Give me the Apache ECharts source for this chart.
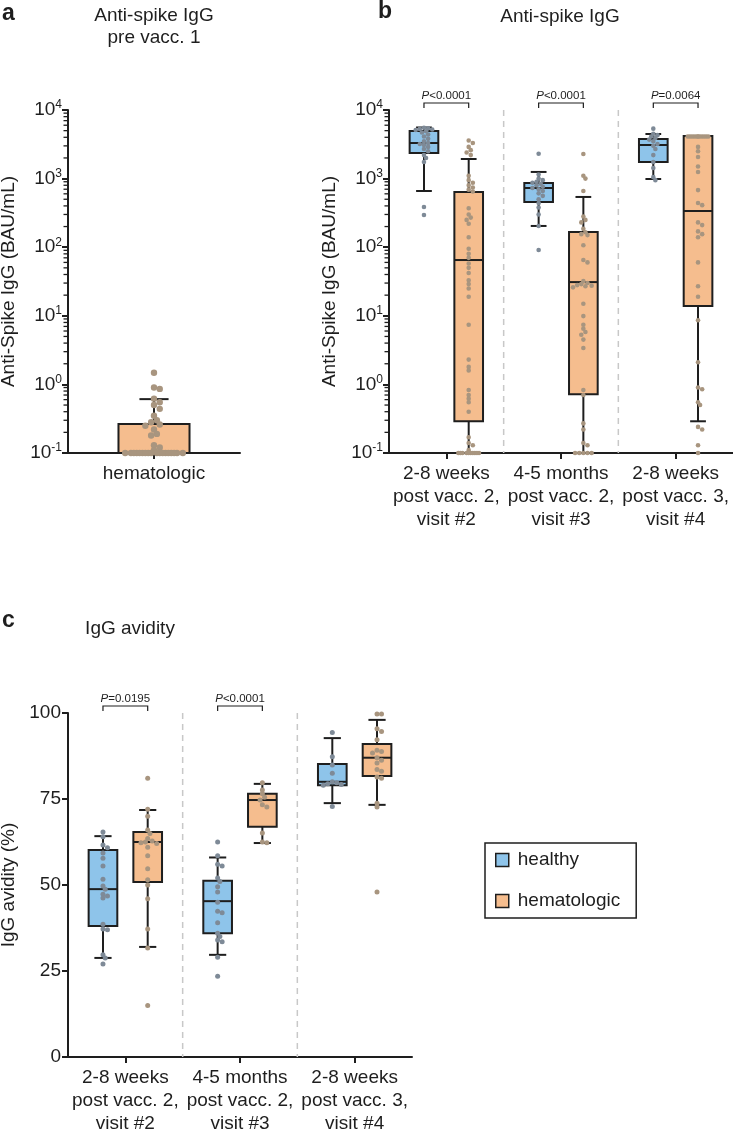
<!DOCTYPE html>
<html><head><meta charset="utf-8">
<script src="https://cdn.jsdelivr.net/npm/echarts@6/dist/echarts.min.js"></script>
<style>html,body{margin:0;padding:0;background:#fff}#c{width:733px;height:1131px}</style>
</head><body><div id="c"></div>
<script>
// ---------------- data ----------------
const catsA = ['hematologic'];
const catsBC = ['2-8 weeks\npost vacc. 2,\nvisit #2', '4-5 months\npost vacc. 2,\nvisit #3', '2-8 weeks\npost vacc. 3,\nvisit #4'];

// boxes: [whisker low, Q1, median, Q3, whisker high]
const boxA_hemat   = [[0.1, 0.1, 0.1, 0.265, 0.61]];
const boxB_healthy = [[660, 2360, 3300, 4940, 5560], [204, 456, 730, 863, 1250], [986, 1745, 3090, 3780, 4470]];
const boxB_hemat   = [[0.1, 0.29, 65, 638, 1930], [0.1, 0.72, 31, 166, 540], [0.29, 13.9, 337, 4170, 4170]];
const boxC_healthy = [[28.8, 38.1, 48.8, 60.2, 64.2], [29.7, 36, 45.3, 51.2, 58], [73.8, 79, 80, 85.2, 92.7]];
const boxC_hemat   = [[32, 50.9, 62.5, 65.4, 71.8], [62.2, 66.9, 74.7, 76.5, 79.4], [73.3, 81.7, 87, 91, 98]];

// individual points
const ptsA_hemat = [[1.48, 0.90, 0.86, 0.62, 0.55, 0.50, 0.44, 0.35, 0.30, 0.28, 0.26, 0.25, 0.22, 0.19, 0.18, 0.13, 0.12, 0.11,
  0.1, 0.1, 0.1, 0.1, 0.1, 0.1, 0.1, 0.1, 0.1, 0.1, 0.1, 0.1, 0.1, 0.1, 0.1, 0.1, 0.1, 0.1]];
const ptsB_healthy = [
  [5500, 5400, 5300, 5200, 5100, 4900, 4700, 4400, 4100, 3800, 3500, 3300, 3200, 3100, 2900, 2700, 2500, 2200, 2000, 1750, 385, 295],
  [2300, 1150, 1000, 950, 900, 870, 840, 800, 760, 730, 700, 660, 610, 560, 500, 440, 380, 300, 204, 91],
  [5350, 4500, 4300, 4100, 3900, 3700, 3500, 3200, 3000, 2700, 2200, 1750, 1430, 1050, 950]
];
const ptsB_hemat = [
  [3600, 3300, 2900, 2600, 2400, 2200, 1100, 950, 870, 800, 740, 690, 650, 370, 300, 270, 250, 220, 140, 95, 80, 70, 58, 50, 42, 33, 29, 25, 19,
   7.4, 2.3, 1.8, 1.6, 0.83, 0.7, 0.62, 0.55, 0.4, 0.17, 0.14, 0.13, 0.11, 0.1, 0.1, 0.1, 0.1, 0.1, 0.1, 0.1, 0.1, 0.1, 0.1],
  [2280, 1100, 1000, 660, 280, 250, 230, 185, 165, 155, 150, 107, 65, 60, 32, 30, 29, 28, 27.5, 27, 26, 15, 9.9, 7.4, 6.5, 5.8, 5.3, 4.5, 3.4,
   0.83, 0.7, 0.27, 0.22, 0.14, 0.13, 0.1, 0.1, 0.1, 0.1, 0.1],
  [4100, 4100, 4100, 4100, 4100, 4100, 4100, 4100, 4100, 4100, 4100, 4100, 2900, 2500, 2060, 1500, 1250, 680, 440, 410, 230, 210, 170, 155, 140,
   60, 27, 19, 8.6, 2.1, 0.9, 0.85, 0.55, 0.5, 0.24, 0.22, 0.13, 0.1]
];
const ptsC_healthy = [
  [65.4, 64, 61.6, 60.8, 59.3, 57.8, 55.5, 51.7, 49.7, 48.8, 47.3, 46.8, 46.2, 38.6, 37.2, 37, 29.7, 28.8, 27],
  [62.5, 58.5, 56, 55.5, 52, 51, 49.5, 48, 45, 42.4, 41.9, 39, 36, 35, 34, 33.5, 29, 23.5],
  [94.3, 87.3, 84.9, 82.5, 80, 79.7, 79.4, 79.2, 79, 72.8]
];
const ptsC_hemat = [
  [81, 72, 70, 66, 65, 63.5, 62.8, 62.5, 62.3, 62.1, 61, 58.5, 54.7, 51.5, 50, 46, 37.2, 31.7, 15],
  [79.7, 77.6, 76.5, 75.5, 74.7, 73.3, 72.7, 65.1, 62.5, 62.3],
  [99.7, 99.7, 95.4, 94.6, 92.2, 89.2, 88.8, 88.4, 87, 86.3, 85.5, 83.6, 83.1, 81.4, 81, 73.8, 72.7, 48]
];
const pValsB = ['<0.0001', '<0.0001', '=0.0064'];
const pValsC = ['=0.0195', '<0.0001', null];

// log-axis minor tick mantissas / decades
const minorMantissas = [2, 3, 4, 5, 6, 7, 8, 9];
const minorDecades = [0.1, 1, 10, 100, 1000];

// ---------------- style ----------------
const INK = '#1e1e1e';
const C_HEALTHY = '#8ec4ea', C_HEMAT = '#f5bd8e';
const DOT_HEALTHY = '#7e8a97', DOT_HEMAT = '#a8957f';
const FONT = '"Liberation Sans", Arial, Helvetica, sans-serif';

const G = {
  a: { grid: 0, n: 1, boxRatio: 0.413, capRatio: 0.41, r: 3.2, offH: 0, offM: 0 },
  b: { grid: 1, n: 3, boxRatio: 0.25, capRatio: 0.55, r: 2.3, offH: -0.195, offM: 0.195 },
  c: { grid: 2, n: 3, boxRatio: 0.25, capRatio: 0.6, r: 2.5, offH: -0.195, offM: 0.195 }
};

// deterministic beeswarm: spread points that would overlap
function swarm(ys, d, maxOff) {
  const order = ys.map((y, i) => i).sort((a, b) => ys[a] - ys[b]);
  const placed = [], xs = new Array(ys.length);
  const step = d * 0.6;
  order.forEach(i => {
    let best = 0, bestScore = -1;
    for (let k = 0; k < 200; k++) {
      const off = k === 0 ? 0 : (k % 2 ? 1 : -1) * Math.ceil(k / 2) * step;
      if (Math.abs(off) > maxOff) break;
      let minD = Infinity;
      placed.forEach(p => { const dd = Math.hypot(p.x - off, p.y - ys[i]); if (dd < minD) minD = dd; });
      if (minD >= d) { best = off; bestScore = Infinity; break; }
      if (minD > bestScore) { bestScore = minD; best = off; }
    }
    xs[i] = best; placed.push({ x: best, y: ys[i] });
  });
  return xs;
}

function boxSeries(name, g, boxes, off, fill) {
  return {
    type: 'custom', name, xAxisIndex: g.grid, yAxisIndex: g.grid, z: 2, silent: true, clip: false,
    itemStyle: { color: fill },
    data: boxes.map((b, i) => [i].concat(b)),
    renderItem(params, api) {
      const cs = params.coordSys, band = cs.width / g.n;
      const ci = api.value(0);
      const cx = api.coord([ci, api.value(3)])[0] + off * band;
      const w = g.boxRatio * band, cw = w * g.capRatio;
      const Y = k => api.coord([ci, api.value(k)])[1];
      const yLo = Y(1), yQ1 = Y(2), yMed = Y(3), yQ3 = Y(4), yHi = Y(5);
      const st = { stroke: INK, lineWidth: 2 };
      const line = (x1, y1, x2, y2) => ({ type: 'line', shape: { x1, y1, x2, y2 }, style: st });
      return { type: 'group', children: [
        line(cx, yHi, cx, yQ3), line(cx, yQ1, cx, yLo),
        line(cx - cw / 2, yHi, cx + cw / 2, yHi), line(cx - cw / 2, yLo, cx + cw / 2, yLo),
        { type: 'rect', shape: { x: cx - w / 2, y: yQ3, width: w, height: yQ1 - yQ3 }, style: { fill, stroke: INK, lineWidth: 2 } },
        line(cx - w / 2, yMed, cx + w / 2, yMed)
      ] };
    }
  };
}

function pointSeries(name, g, pts, off, color) {
  const data = [];
  pts.forEach((arr, ci) => arr.forEach(v => data.push([ci, v])));
  const cache = {};
  return {
    type: 'custom', name, xAxisIndex: g.grid, yAxisIndex: g.grid, z: 3, silent: true, clip: false,
    itemStyle: { color }, data,
    renderItem(params, api) {
      const cs = params.coordSys, band = cs.width / g.n;
      const i = params.dataIndex, ci = data[i][0];
      const key = ci + '_' + cs.width + '_' + cs.height;
      if (!cache[key]) {
        const idxs = [];
        data.forEach((d, j) => { if (d[0] === ci) idxs.push(j); });
        const ys = idxs.map(j => api.coord([ci, data[j][1]])[1]);
        const xs = swarm(ys, 1.5 * g.r, g.boxRatio * band / 2 - g.r);
        const m = {};
        idxs.forEach((j, k) => { m[j] = xs[k]; });
        cache[key] = m;
      }
      const p = api.coord([ci, data[i][1]]);
      return { type: 'circle', shape: { cx: p[0] + off * band + cache[key][i], cy: p[1], r: g.r }, style: { fill: color } };
    }
  };
}

function minorTickSeries(gi) {
  const data = [];
  minorDecades.forEach(d => minorMantissas.forEach(m => data.push([0, +(d * m).toPrecision(3)])));
  return {
    type: 'custom', xAxisIndex: gi, yAxisIndex: gi, silent: true, z: 10, clip: false, data,
    renderItem(params, api) {
      const y = api.coord([0, api.value(1)])[1];
      const x = params.coordSys.x;
      return { type: 'line', shape: { x1: x - 4.5, y1: y, x2: x, y2: y }, style: { stroke: INK, lineWidth: 1.3 } };
    }
  };
}

function sepSeries(g, yRef) {
  return {
    type: 'custom', xAxisIndex: g.grid, yAxisIndex: g.grid, silent: true, z: 1, clip: false, data: [[1, yRef], [2, yRef]],
    renderItem(params, api) {
      const cs = params.coordSys, band = cs.width / g.n;
      const x = api.coord([api.value(0), yRef])[0] - band / 2;
      return { type: 'line', shape: { x1: x, y1: cs.y, x2: x, y2: cs.y + cs.height },
        style: { stroke: '#c8c8c8', lineWidth: 1.5, lineDash: [6, 5] } };
    }
  };
}

function pSeries(g, pv, yRef) {
  const data = [];
  pv.forEach((t, i) => { if (t) data.push([i, yRef]); });
  return {
    type: 'custom', xAxisIndex: g.grid, yAxisIndex: g.grid, silent: true, z: 5, clip: false, data,
    renderItem(params, api) {
      const cs = params.coordSys, band = cs.width / g.n;
      const ci = api.value(0);
      const cx = api.coord([ci, yRef])[0];
      const x1 = cx + g.offH * band, x2 = cx + g.offM * band, top = cs.y;
      return { type: 'group', children: [
        { type: 'polyline', shape: { points: [[x1, top - 2], [x1, top - 7], [x2, top - 7], [x2, top - 2]] },
          style: { stroke: INK, lineWidth: 1.2, fill: null } },
        { type: 'text', x: (x1 + x2) / 2, y: top - 8,
          style: { text: '{i|P}{n|' + pv[ci] + '}', align: 'center', verticalAlign: 'bottom', fill: INK,
            fontSize: 11.5, fontFamily: FONT,
            rich: { i: { fontStyle: 'italic', fontSize: 11.5, fontFamily: FONT, fill: INK }, n: { fontSize: 11.5, fontFamily: FONT, fill: INK } } } }
      ] };
    }
  };
}

function catAxis(gi, cats) {
  return {
    type: 'category', gridIndex: gi, data: cats, boundaryGap: true,
    axisLine: { show: true, lineStyle: { color: INK, width: 2 } },
    axisTick: { show: true, alignWithLabel: true, length: 6, interval: 0, lineStyle: { color: INK, width: 2 } },
    axisLabel: { color: INK, fontSize: 19, fontFamily: FONT, lineHeight: 23, margin: 9, interval: 0 },
    splitLine: { show: false }
  };
}

function logAxis(gi) {
  return {
    type: 'log', gridIndex: gi, logBase: 10, min: 0.1, max: 10000, splitNumber: 5,
    axisLine: { show: true, lineStyle: { color: INK, width: 2 } },
    axisTick: { show: true, length: 6, lineStyle: { color: INK, width: 2 } },
    splitLine: { show: false },
    axisLabel: {
      margin: 6,
      formatter: v => '{b|10}{s|' + Math.round(Math.log10(v)) + '}',
      rich: {
        b: { fontSize: 19, fontFamily: FONT, color: INK, lineHeight: 22 },
        s: { fontSize: 12, fontFamily: FONT, color: INK, lineHeight: 12, verticalAlign: 'top' }
      }
    },
    name: 'Anti-Spike IgG (BAU/mL)', nameLocation: 'middle', nameGap: 50,
    nameTextStyle: { fontSize: 19, fontFamily: FONT, color: INK }
  };
}

const linAxis = {
  type: 'value', gridIndex: 2, min: 0, max: 100, interval: 25,
  axisLine: { show: true, lineStyle: { color: INK, width: 2 } },
  axisTick: { show: true, length: 6, lineStyle: { color: INK, width: 2 } },
  splitLine: { show: false },
  axisLabel: { margin: 7, fontSize: 19, fontFamily: FONT, color: INK },
  name: 'IgG avidity (%)', nameLocation: 'middle', nameGap: 50,
  nameTextStyle: { fontSize: 19, fontFamily: FONT, color: INK }
};

const txt = (text, x, y, size, opts) => ({
  type: 'text', x, y, silent: true,
  style: Object.assign({ text, fontSize: size, fontFamily: FONT, fill: INK, align: 'center', verticalAlign: 'middle' }, opts || {})
});

const option = {
  animation: false,
  backgroundColor: '#fff',
  grid: [
    { left: 68, top: 110, width: 172, height: 343, containLabel: false, outerBoundsMode: 'none' },
    { left: 389, top: 110, width: 344, height: 343, containLabel: false, outerBoundsMode: 'none' },
    { left: 68, top: 713, width: 344, height: 344, containLabel: false, outerBoundsMode: 'none' }
  ],
  xAxis: [catAxis(0, catsA), catAxis(1, catsBC), catAxis(2, catsBC)],
  yAxis: [logAxis(0), logAxis(1), linAxis],
  legend: {
    orient: 'vertical', left: 485, top: 843, padding: [7, 16, 7, 10],
    itemWidth: 13, itemHeight: 13, itemGap: 21, icon: 'rect', selectedMode: false,
    borderColor: INK, borderWidth: 1.5, borderRadius: 0,
    textStyle: { fontSize: 19, fontFamily: FONT, color: INK, lineHeight: 20, padding: [0, 0, 0, 4] },
    data: [
      { name: 'healthy', itemStyle: { color: C_HEALTHY, borderColor: INK, borderWidth: 1.5 } },
      { name: 'hematologic', itemStyle: { color: C_HEMAT, borderColor: INK, borderWidth: 1.5 } }
    ]
  },
  graphic: [
    txt('a', 2, 14, 23, { fontWeight: 'bold', align: 'left' }),
    txt('Anti-spike IgG\npre vacc. 1', 154, 27, 19, { lineHeight: 22 }),
    txt('b', 378, 12, 23, { fontWeight: 'bold', align: 'left' }),
    txt('Anti-spike IgG', 560, 17, 19),
    txt('c', 2, 621, 23, { fontWeight: 'bold', align: 'left' }),
    txt('IgG avidity', 130, 629, 19)
  ],
  series: [
    minorTickSeries(0), minorTickSeries(1),
    sepSeries(G.b, 1), sepSeries(G.c, 50),
    boxSeries('hematologic', G.a, boxA_hemat, G.a.offM, C_HEMAT),
    pointSeries('hematologic', G.a, ptsA_hemat, G.a.offM, DOT_HEMAT),
    boxSeries('healthy', G.b, boxB_healthy, G.b.offH, C_HEALTHY),
    boxSeries('hematologic', G.b, boxB_hemat, G.b.offM, C_HEMAT),
    pointSeries('healthy', G.b, ptsB_healthy, G.b.offH, DOT_HEALTHY),
    pointSeries('hematologic', G.b, ptsB_hemat, G.b.offM, DOT_HEMAT),
    pSeries(G.b, pValsB, 1),
    boxSeries('healthy', G.c, boxC_healthy, G.c.offH, C_HEALTHY),
    boxSeries('hematologic', G.c, boxC_hemat, G.c.offM, C_HEMAT),
    pointSeries('healthy', G.c, ptsC_healthy, G.c.offH, DOT_HEALTHY),
    pointSeries('hematologic', G.c, ptsC_hemat, G.c.offM, DOT_HEMAT),
    pSeries(G.c, pValsC, 50)
  ]
};

const chart = echarts.init(document.getElementById('c'), null, { renderer: 'canvas', width: 733, height: 1131 });
chart.setOption(option);
</script>
</body></html>
